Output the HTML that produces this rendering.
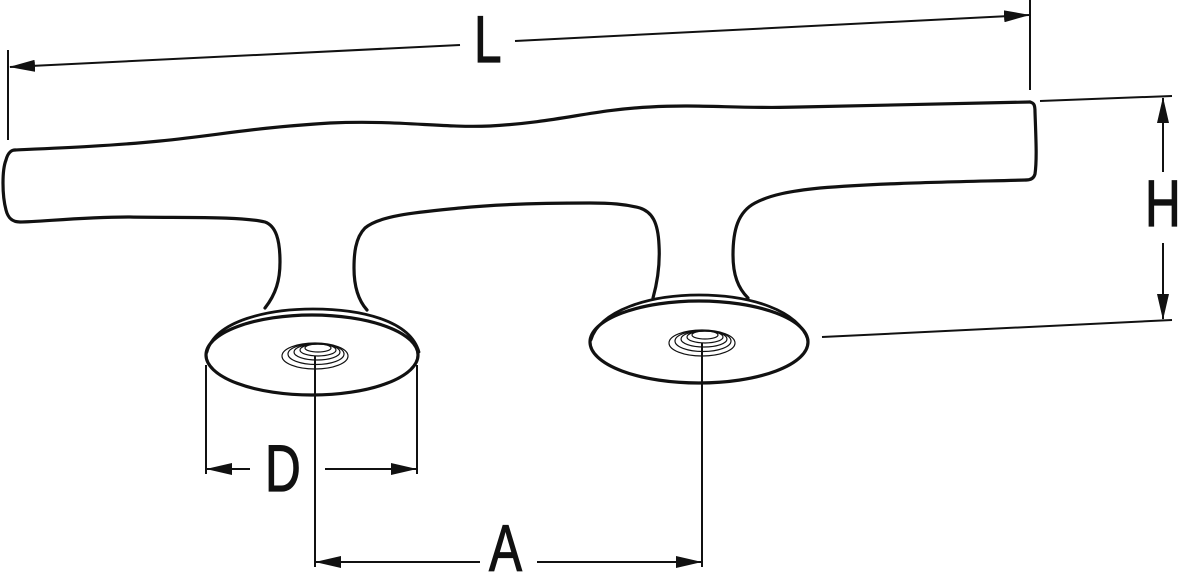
<!DOCTYPE html>
<html><head><meta charset="utf-8"><style>
html,body{margin:0;padding:0;background:#fff;}
svg{display:block}
text{font-family:"Liberation Sans",sans-serif;fill:#111;font-weight:normal;stroke:#111;stroke-width:1.2}
</style></head><body>
<svg width="1181" height="586" viewBox="0 0 1181 586" xmlns="http://www.w3.org/2000/svg">
<defs>
<marker id="ar" markerWidth="26" markerHeight="12" refX="25" refY="6" orient="auto" markerUnits="userSpaceOnUse">
<path d="M0,0 L26,6 L0,12 Z" fill="#111"/>
</marker>
</defs>
<g fill="none" stroke="#111" stroke-width="3.2" stroke-linejoin="round" stroke-linecap="round">
<path d="M15,150 C60,148 110,146 160,141 C220,135 250,128 330,123 C400,120 440,128 490,126 C560,122 590,110 650,107 C700,104 740,109 800,107 C900,105 980,103 1030,102"/>
<path d="M1030,102 C1034,103 1035,105 1035,112 C1036,140 1037,160 1035,174 C1034,178 1031,180 1026,180"/>
<path d="M1026,180 C950,182 880,183 820,188 C790,191 770,195 755,203 C738,212 733,230 733,255 C733,275 738,288 748,298"/>
<path d="M653,298 C658,280 660,262 659,245 C658,222 652,212 640,208 C625,204 610,203 590,203 C540,203 500,204 460,208 C420,212 380,215 365,228 C355,238 354,255 354,268 C354,285 358,300 367,310"/>
<path d="M265,308 C276,294 280,280 280,262 C280,240 276,226 265,222 C240,216 180,218 130,217 C80,217 40,222 20,222 C12,222 8,218 6,210 C2,195 2,170 6,160 C8,152 12,150 15,150"/>
<ellipse cx="312" cy="355" rx="106" ry="40"/>
<path d="M207,352 C215,320 270,309 313,309 C360,309 410,320 419,352" stroke-width="2.8"/>
<ellipse cx="699" cy="342" rx="109" ry="41"/>
<path d="M591,340 C600,310 650,295 699,295 C750,295 798,310 808,340" stroke-width="2.8"/>
</g>
<g fill="none" stroke="#111" stroke-width="1.2">
<ellipse cx="315" cy="356" rx="33" ry="13"/>
<ellipse cx="316" cy="354" rx="28" ry="10.5"/>
<ellipse cx="317" cy="352" rx="23" ry="8"/>
<ellipse cx="318" cy="350" rx="18" ry="6"/>
<ellipse cx="318" cy="348" rx="13" ry="4"/>
<ellipse cx="702" cy="343" rx="33" ry="13"/>
<ellipse cx="703" cy="341" rx="28" ry="10.5"/>
<ellipse cx="704" cy="339" rx="23" ry="8"/>
<ellipse cx="705" cy="337" rx="18" ry="6"/>
<ellipse cx="705" cy="335" rx="13" ry="4"/>
</g>
<g stroke="#111" stroke-width="2" fill="none">
<line x1="8" y1="50" x2="8" y2="140"/>
<line x1="1030" y1="0" x2="1030" y2="90"/>
<line x1="460" y1="45" x2="10" y2="67" marker-end="url(#ar)"/>
<line x1="515" y1="41" x2="1029" y2="15" marker-end="url(#ar)"/>
<line x1="1040" y1="101" x2="1172" y2="96"/>
<line x1="822" y1="337" x2="1172" y2="320"/>
<line x1="1163" y1="172" x2="1163" y2="98" marker-end="url(#ar)"/>
<line x1="1163" y1="243" x2="1163" y2="319" marker-end="url(#ar)"/>
<line x1="206" y1="365" x2="206" y2="474"/>
<line x1="417" y1="365" x2="417" y2="474"/>
<line x1="250" y1="469" x2="207" y2="469" marker-end="url(#ar)"/>
<line x1="325" y1="469" x2="416" y2="469" marker-end="url(#ar)"/>
<line x1="315" y1="356" x2="315" y2="567"/>
<line x1="702" y1="343" x2="702" y2="567"/>
<line x1="480" y1="562" x2="316" y2="562" marker-end="url(#ar)"/>
<line x1="537" y1="562" x2="701" y2="562" marker-end="url(#ar)"/>
</g>
<text font-size="66" transform="translate(474,62) scale(0.75,1)">L</text>
<text font-size="66" transform="translate(1145,226) scale(0.75,1)">H</text>
<text font-size="66" transform="translate(265,491) scale(0.75,1)">D</text>
<text font-size="66" transform="translate(489,571) scale(0.75,1)">A</text>
</svg>
</body></html>
